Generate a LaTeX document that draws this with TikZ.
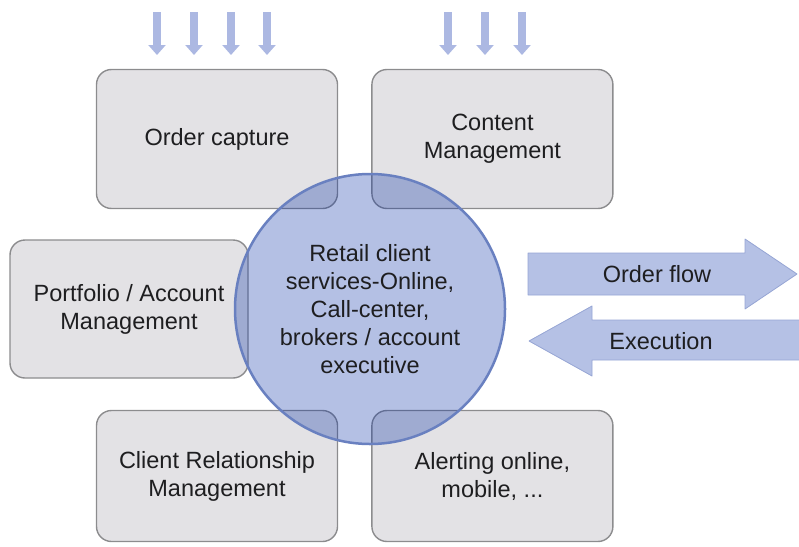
\documentclass[tikz,border=0pt]{standalone}
\usepackage{fontspec}
\setmainfont{Liberation Sans}
\usetikzlibrary{arrows.meta,positioning}

\definecolor{boxgrey}{RGB}{227,226,229}
\definecolor{boxline}{RGB}{140,140,142}
\definecolor{hubblue}{RGB}{5,45,165}
\definecolor{hubline}{RGB}{105,128,192}
\definecolor{flowblue}{RGB}{181,193,229}
\definecolor{flowline}{RGB}{150,165,212}
\definecolor{feedblue}{RGB}{172,184,226}
\definecolor{inkgrey}{RGB}{30,30,32}

\begin{document}
\begin{tikzpicture}[x=1pt,y=-1pt,
  every node/.style={text=inkgrey,font=\fontsize{23.5}{28}\selectfont,align=center},
  box/.style={rectangle,rounded corners=15pt,draw=boxline,line width=1.4pt,fill=boxgrey,minimum width=241pt,minimum height=139pt},
  hub/.style={circle,draw=hubline,line width=2.5pt,fill=hubblue,fill opacity=0.3,text opacity=1,minimum size=270pt,inner sep=0pt},
  feed/.style={draw=feedblue,line width=8pt,-{Triangle[width=17pt,length=10pt]}},
  big/.style={fill=flowblue,draw=flowline,line width=0.8pt,line join=round}]

\useasboundingbox (0,0) rectangle (799,546);

% services round the hub
\node[box]   (cap)   at (217,139)        {Order capture};
 \node[box]  (cms)   [right=33pt of cap] {Content\\Management};
\node[box,minimum width=238pt,minimum height=138pt] (port) at (129,309) {Portfolio / Account\\Management};
	\node[box,minimum height=131pt] (crm)   at (217,476)        {Client Relationship\\Management};
	\node[box,minimum height=131pt] (alert) [right=33pt of crm] {Alerting online,\\mobile, ...};

\node[hub] (hub) at (370,309) {Retail client\\services-Online,\\Call-center,\\brokers / account\\executive};

% inputs from above
\foreach \x [count=\i] in {157,194,231,267} {
  \coordinate (inA\i) at (\x,12);
  \draw[feed] (inA\i) -- ++(0,43);
}
\foreach \x [count=\i] in {448,485,522} {
  \coordinate (inB\i) at (\x,12);
  \draw[feed] (inB\i) -- ++(0,43);
}

% flows to the right
\draw[big] (528,253) -- (745,253) -- (745,239) -- (797,274) -- (745,309) -- (745,295) -- (528,295) -- cycle;
\node (flow) at (657,274) {Order flow};

\draw[big] (805,320) -- (592,320) -- (592,306) -- (529,341) -- (592,376) -- (592,360) -- (805,360) -- cycle;
\node (exec) at (661,341) {Execution};

\end{tikzpicture}
\end{document}
